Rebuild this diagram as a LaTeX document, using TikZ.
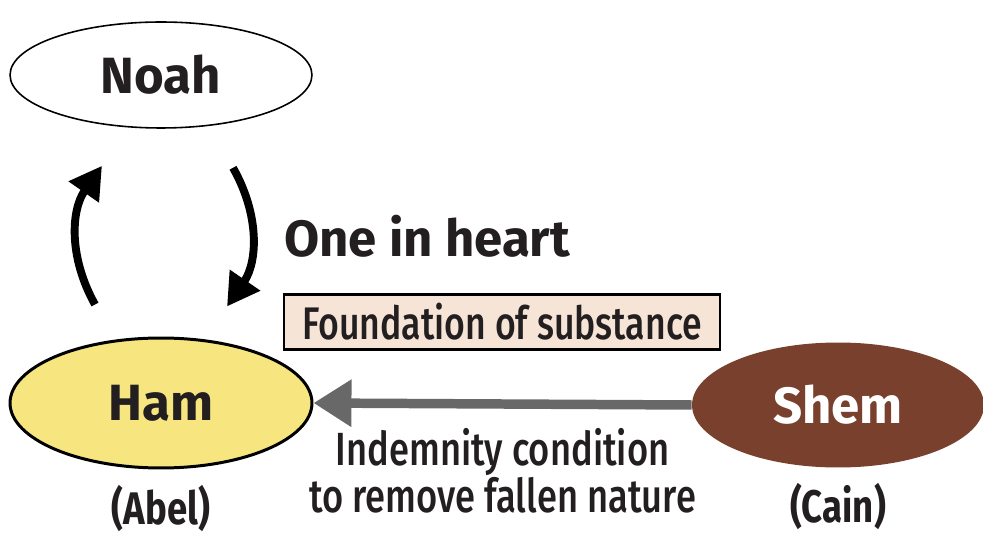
\documentclass[tikz,border=0pt]{standalone}
\usepackage{fontspec}
\setmainfont{Fira Sans}
\newfontfamily\narrowfont[FakeStretch=0.78]{Fira Sans Medium}
\newfontfamily\condfont[FakeStretch=0.8]{Fira Sans}
\usetikzlibrary{positioning,arrows.meta,shapes.geometric,calc}
\definecolor{hamyellow}{RGB}{247,230,128}
\definecolor{shembrown}{RGB}{120,64,45}
\definecolor{softsand}{RGB}{246,228,214}
\definecolor{arrowgray}{RGB}{104,104,104}
\definecolor{inkgray}{RGB}{35,31,32}
\newcommand{\namefont}{\fontsize{29}{34}\selectfont\bfseries}
\tikzset{
  person/.style={ellipse,draw=black,align=center,minimum width=6.04cm,font=\namefont,text=inkgray},
  sidelabel/.style={inner sep=0pt,text=inkgray,font=\condfont\fontsize{26}{29}\selectfont\bfseries},
  basebox/.style={rectangle,draw=black,line width=1.2pt,fill=softsand,text=inkgray,minimum width=8.72cm,minimum height=1.1cm,inner sep=0pt,font=\narrowfont\fontsize{26}{28}\selectfont},
  notelabel/.style={align=center,inner sep=0pt,text=inkgray,font=\narrowfont\fontsize{26.5}{21.5}\selectfont},
  turnarrow/.style={-{Triangle[length=0.64cm,width=0.7cm]},line width=4.5pt},
  grayarrow/.style={-{Triangle[length=0.76cm,width=0.9cm]},line width=5.4pt,draw=arrowgray}
}

\begin{document}
\begin{tikzpicture}[x=0.02cm,y=-0.02cm]
  \useasboundingbox (0,0) rectangle (983,536);
  \node[person,minimum height=2.12cm,line width=0.9pt] (noah) at (161,75) {Noah};
  \node[person,fill=hamyellow,minimum height=2.6cm,line width=1.7pt] (ham) at (161,403) {Ham};
  \node[person,draw=none,fill=shembrown,text=white,minimum width=5.84cm,minimum height=2.5cm] (shem) at (838,405) {Shem};
  \node[sidelabel,below=0.3cm of ham] (abel) {(Abel)};
  \node[sidelabel,below=0.3cm of shem] (cain) {(Cain)};
  \node[anchor=west,inner sep=0pt,text=inkgray,font=\namefont] (heart) at (284,236) {One in heart};
  \node[basebox] (base) at (502,322) {Foundation of substance};
  % Noah and Ham turning to each other
  \draw[turnarrow] ($(ham.north)+(-66,-32)$) to[bend left=32] ($(noah.south)+(-59,37)$);
  \draw[turnarrow] ($(noah.south)+(72,39)$) to[bend left=32] ($(ham.north)+(66,-30)$);
  \draw[grayarrow] (shem.west) -- node[below=0.4cm,notelabel] {Indemnity condition\\to remove fallen nature} (ham.east);
\end{tikzpicture}
\end{document}
